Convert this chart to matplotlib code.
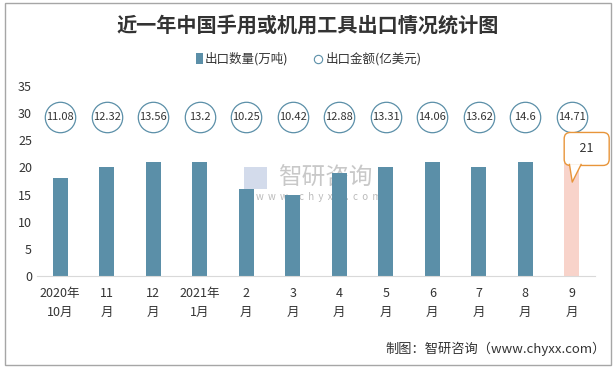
import matplotlib.pyplot as plt
import numpy as np
from matplotlib.patches import Rectangle, Polygon

plt.rcParams['font.family'] = ['Noto Sans CJK SC', 'DejaVu Sans']

months = ['2020年\n10月', '11\n月', '12\n月', '2021年\n1月', '2\n月', '3\n月',
          '4\n月', '5\n月', '6\n月', '7\n月', '8\n月', '9\n月']
volume = [18, 20, 21, 21, 16, 15, 19, 20, 21, 20, 21, 21]      # 出口数量(万吨)
amount = [11.08, 12.32, 13.56, 13.2, 10.25, 10.42, 12.88, 13.31,
          14.06, 13.62, 14.6, 14.71]                          # 出口金额(亿美元)

bar_color = '#5B8FA8'
last_color = '#F8D3CA'
text_color = '#333333'
callout_color = '#E8953A'

fig = plt.figure(figsize=(6.16, 3.69), dpi=100)
ax = fig.add_axes([0.060, 0.252, 0.906, 0.515])

x = np.arange(len(months))
colors = [bar_color] * (len(x) - 1) + [last_color]
ax.bar(x, volume, width=0.32, color=colors, zorder=2)

# amount shown as labelled circles in a row near the top
circle_y = 29.3
ax.scatter(x, [circle_y] * len(x), s=480, facecolor='white', edgecolor=bar_color,
           linewidth=0.9, zorder=3, clip_on=False)
for xi, v in zip(x, amount):
    ax.text(xi, circle_y, f'{v:g}', ha='center', va='center', fontsize=8,
            color=text_color, zorder=4)

# callout on the last bar
ax.text(x[-1] + 0.32, 23.4, '  ' + str(volume[-1]) + '  ', ha='center', va='center',
        fontsize=9, color=text_color, clip_on=False, zorder=5,
        bbox=dict(boxstyle='round,pad=0.8,rounding_size=0.5', fc='white',
                  ec=callout_color, lw=1))
tip = (x[-1] + 0.01, 17.3)
base_l = (x[-1] - 0.05, 20.55)
base_r = (x[-1] + 0.2, 20.55)
ax.add_patch(Polygon([base_l, tip, base_r], closed=True, fc='white', ec='none',
                     zorder=6, clip_on=False))
ax.plot([base_l[0], tip[0], base_r[0]], [base_l[1], tip[1], base_r[1]],
        color=callout_color, lw=1, zorder=7, clip_on=False)

ax.set_xlim(-0.5, len(x) - 0.5)
ax.set_ylim(0, 35)
ax.set_yticks(range(0, 36, 5))
ax.set_xticks(x)
ax.set_xticklabels(months, fontsize=9.5, color=text_color, linespacing=1.6)
ax.tick_params(axis='both', length=0, colors=text_color, labelsize=9)
ax.tick_params(axis='x', pad=8)
for s in ['top', 'right', 'left']:
    ax.spines[s].set_visible(False)
ax.spines['bottom'].set_color('#D9D9D9')

# watermark
ax.add_patch(Rectangle((3.95, 16.0), 0.5, 4.0, fc='#C9D3E6', ec='none', alpha=0.8, zorder=1))
ax.text(5.7, 18.0, '智研咨询', fontsize=17, color='#BBBBBB', alpha=0.8,
        ha='center', va='center', zorder=1)
ax.text(5.55, 14.5, 'w  w  w  .  c  h  y  x  x  .  c  o  m', fontsize=7, color='#AAAAAA',
        alpha=0.8, ha='center', va='center', zorder=1)

fig.text(0.5, 0.932, '近一年中国手用或机用工具出口情况统计图', ha='center', va='center',
         fontsize=14.5, fontweight='bold', color=text_color)

# legend
fig.patches.append(Rectangle((0.318, 0.826), 0.011, 0.03, transform=fig.transFigure,
                             fc=bar_color, ec='none'))
fig.text(0.333, 0.840, '出口数量(万吨)', ha='left', va='center', fontsize=9, color=text_color)
fig.add_artist(plt.Line2D([0.516], [0.840], marker='o', markersize=6, mfc='white',
                          mec=bar_color, mew=0.8, transform=fig.transFigure))
fig.text(0.528, 0.840, '出口金额(亿美元)', ha='left', va='center', fontsize=9, color=text_color)

fig.text(0.983, 0.054, '制图：智研咨询（www.chyxx.com）', ha='right', va='center',
         fontsize=9.5, color=text_color)

fig.patches.append(Rectangle((0.008, 0.01), 0.984, 0.983, transform=fig.transFigure,
                             fill=False, ec='#A6A6A6', lw=1))

fig.savefig('out.png', dpi=100)
